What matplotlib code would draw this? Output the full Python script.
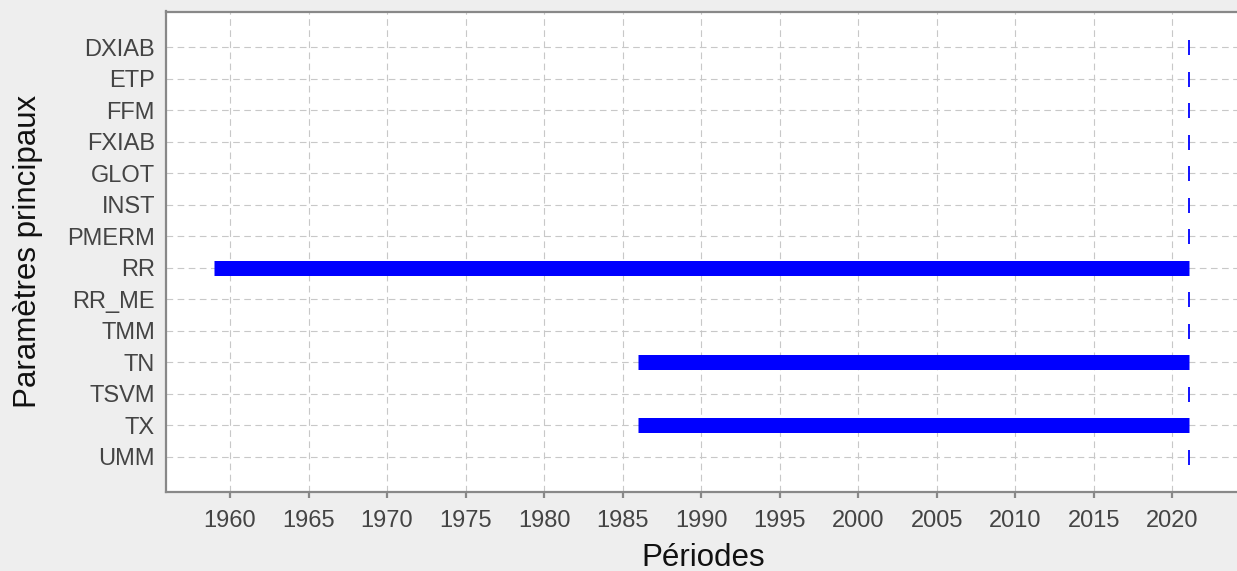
import matplotlib
matplotlib.use("Agg")
import matplotlib.pyplot as plt

params = ["DXIAB", "ETP", "FFM", "FXIAB", "GLOT", "INST", "PMERM",
          "RR", "RR_ME", "TMM", "TN", "TSVM", "TX", "UMM"]
starts = [2021.08, 2021.08, 2021.08, 2021.08, 2021.08, 2021.08, 2021.08,
          1959.0, 2021.08, 2021.08, 1986.0, 2021.08, 1986.0, 2021.08]
ends = [2021.08] * 14
xticks = list(range(1960, 2021, 5))

plt.rcParams['font.family'] = ['Liberation Sans', 'DejaVu Sans']

W, H = 1237, 571
fig = plt.figure(figsize=(W / 100, H / 100), dpi=100, facecolor='#eeeeee')
left_px, top_px, bot_px = 166, 11.5, 491.7
ax_w_px = W - left_px + 4
ax = fig.add_axes([left_px / W, (H - bot_px) / H, ax_w_px / W, (bot_px - top_px) / H])
ax.set_facecolor('white')

ypos = list(range(len(params)))
for y, s, e in zip(ypos, starts, ends):
    if e - s > 0.01:
        ax.hlines(y, s, e, colors='#0000ff', linewidth=10.8, capstyle='butt', zorder=3)
    else:
        ax.plot([e], [y], marker='|', color='#0000ff', markersize=10.8,
                markeredgewidth=1.3, linestyle='none', zorder=3)

px_per_year = (1172.3 - 230) / 60
x0 = 1960 - (230 - left_px) / px_per_year
ax.set_xlim(x0, x0 + ax_w_px / px_per_year)
step = (456.7 - 47.3) / 13
ax.set_ylim(13 + (bot_px - 456.7) / step, -(47.3 - top_px) / step)

ax.set_xticks(xticks)
ax.set_yticks(ypos)
ax.set_yticklabels(params)

ax.grid(True, color='#c8c8c8', linestyle=(0, (6, 4)), linewidth=0.8, zorder=0)
ax.set_axisbelow(True)

for side in ['left', 'bottom', 'top', 'right']:
    ax.spines[side].set_color('#888888')
    ax.spines[side].set_linewidth(1.6)

ax.tick_params(axis='x', direction='out', length=4.5, width=1.6, color='#888888',
               labelsize=17, labelcolor='#444444', pad=8.5)
ax.tick_params(axis='y', length=0, labelsize=17, labelcolor='#444444', pad=8)

ax.set_xlabel('Périodes', fontsize=22.5, color='#111111')
ax.set_ylabel('Paramètres principaux', fontsize=22.5, color='#111111')
ax.xaxis.set_label_coords(0.5, -0.107)
ax.yaxis.set_label_coords((43 - left_px) / ax_w_px, 0.5)

fig.savefig('out.png', dpi=100, facecolor=fig.get_facecolor())
